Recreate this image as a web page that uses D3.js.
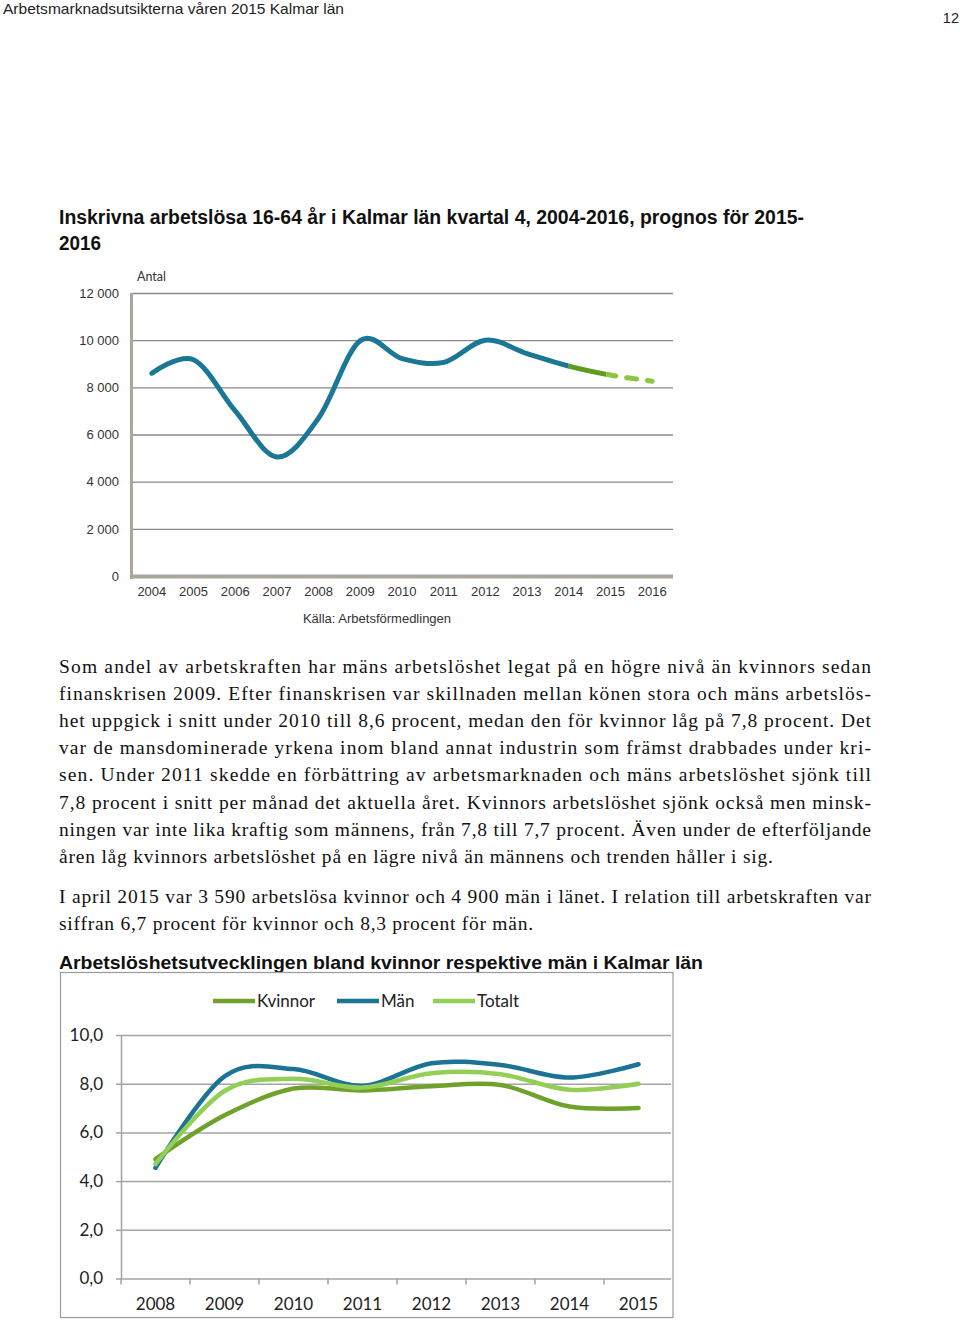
<!DOCTYPE html>
<html><head><meta charset="utf-8">
<script src="https://cdn.jsdelivr.net/npm/d3@7"></script>
<style>
html,body{margin:0;padding:0;background:#fff;}
svg{display:block;}
</style>
</head><body>
<svg id="page" width="960" height="1322"></svg>
<script>
// ---------- DATA ----------
const topYears = ["2004","2005","2006","2007","2008","2009","2010","2011","2012","2013","2014","2015","2016"];
const topValues = [8600, 9170, 7000, 5050, 6700, 9980, 9220, 9060, 10000, 9430, 8900, 8520, 8260];
const topYTicks = [0, 2000, 4000, 6000, 8000, 10000, 12000];
const topActualEnd = "2014";     // blue up to here
const topForecastStart = "2015"; // dashed from here

const botYears = ["2008","2009","2010","2011","2012","2013","2014","2015"];
const kvinnor = [4.9, 6.7, 7.8, 7.72, 7.9, 7.95, 7.06, 7.0];
const man     = [4.55, 8.3, 8.6, 7.92, 8.84, 8.77, 8.25, 8.8];
const totalt  = [4.7, 7.7, 8.2, 7.84, 8.43, 8.39, 7.75, 8.0];
const botYTicks = [0, 2, 4, 6, 8, 10];
const seriesNames = ["Kvinnor", "Män", "Totalt"];

const headerText = "Arbetsmarknadsutsikterna våren 2015 Kalmar län";
const pageNo = "12";
const title1 = ["Inskrivna arbetslösa 16-64 år i Kalmar län kvartal 4, 2004-2016, prognos för 2015-", "2016"];
const title2 = "Arbetslöshetsutvecklingen bland kvinnor respektive män i Kalmar län";
const para1 = [
 "Som andel av arbetskraften har mäns arbetslöshet legat på en högre nivå än kvinnors sedan",
 "finanskrisen 2009. Efter finanskrisen var skillnaden mellan könen stora och mäns arbetslös-",
 "het uppgick i snitt under 2010 till 8,6 procent, medan den för kvinnor låg på 7,8 procent. Det",
 "var de mansdominerade yrkena inom bland annat industrin som främst drabbades under kri-",
 "sen. Under 2011 skedde en förbättring av arbetsmarknaden och mäns arbetslöshet sjönk till",
 "7,8 procent i snitt per månad det aktuella året. Kvinnors arbetslöshet sjönk också men minsk-",
 "ningen var inte lika kraftig som männens, från 7,8 till 7,7 procent. Även under de efterföljande",
 "åren låg kvinnors arbetslöshet på en lägre nivå än männens och trenden håller i sig."
];
const para2 = [
 "I april 2015 var 3 590 arbetslösa kvinnor och 4 900 män i länet. I relation till arbetskraften var",
 "siffran 6,7 procent för kvinnor och 8,3 procent för män."
];

// ---------- SETUP ----------
const svg = d3.select("#page");
svg.append("rect").attr("width",960).attr("height",1322).attr("fill","#fff");
const loc = d3.formatLocale({decimal:",", thousands:"\u00a0", grouping:[3], currency:["",""]});
const fmtTop = loc.format(",.0f");
const fmtBot = loc.format(".1f");
const SANS = "'Liberation Sans', Arial, sans-serif";
const SERIF = "'Liberation Serif', 'Times New Roman', serif";
const CAL = "Lato, 'Open Sans', sans-serif";

// header
svg.append("text").attr("x",3).attr("y",14).attr("font-family",SANS).attr("font-size",14.5)
  .attr("fill","#222").attr("textLength",341).attr("lengthAdjust","spacingAndGlyphs").text(headerText);
svg.append("text").attr("x",959).attr("y",23).attr("text-anchor","end").attr("font-family",SANS)
  .attr("font-size",14.5).attr("fill","#222").text(pageNo);

// title 1
svg.append("text").attr("x",59).attr("y",224).attr("font-family",SANS).attr("font-weight","bold")
  .attr("font-size",19.5).attr("fill","#111").attr("textLength",745).attr("lengthAdjust","spacingAndGlyphs").text(title1[0]);
svg.append("text").attr("x",59).attr("y",250).attr("font-family",SANS).attr("font-weight","bold")
  .attr("font-size",19.5).attr("fill","#111").attr("textLength",42).attr("lengthAdjust","spacingAndGlyphs").text(title1[1]);

// ---------- TOP CHART ----------
const xTop = d3.scaleBand().domain(topYears).range([131, 673]);
const yTop = d3.scaleLinear().domain([0, 12000]).range([576, 293]);
const cx = d => xTop(d) + xTop.bandwidth()/2;

const gTop = svg.append("g");
const gy = gTop.append("g").attr("transform","translate(131,0)")
  .call(d3.axisLeft(yTop).tickValues(topYTicks).tickSize(-(673-131)).tickPadding(12).tickFormat(fmtTop));
gy.select(".domain").remove();
gy.selectAll(".tick line").attr("stroke","#888").attr("stroke-width",1.3);
gy.selectAll(".tick text").attr("font-family",SANS).attr("font-size",13).attr("fill","#333");

const gx = gTop.append("g").attr("transform","translate(0,576)")
  .call(d3.axisBottom(xTop).tickSize(0).tickPadding(11));
gx.select(".domain").remove();
gx.selectAll(".tick text").attr("font-family",SANS).attr("font-size",13).attr("fill","#333");

// axis lines
gTop.append("line").attr("x1",131.5).attr("x2",131.5).attr("y1",yTop(12000)).attr("y2",yTop(0)+3)
  .attr("stroke","#aba59c").attr("stroke-width",3);
gTop.append("line").attr("x1",130).attr("x2",673).attr("y1",yTop(0)+0.5).attr("y2",yTop(0)+0.5)
  .attr("stroke","#aba59c").attr("stroke-width",4);

gTop.append("text").attr("x",137).attr("y",281).attr("font-family",CAL).attr("font-size",12.5)
  .attr("fill","#333").text("Antal");
gTop.append("text").attr("x",377).attr("y",623).attr("text-anchor","middle").attr("font-family",SANS)
  .attr("font-size",13).attr("fill","#333").text("Källa: Arbetsförmedlingen");

const topPts = topYears.map((y,i)=>({year:y, v:topValues[i]}));
const lineTop = d3.line().x(d=>cx(d.year)).y(d=>yTop(d.v)).curve(d3.curveCardinal.tension(0));
const defs = svg.append("defs");
const bSplit = cx(topActualEnd), fSplit = cx(topForecastStart) - 4;
defs.append("clipPath").attr("id","cBlue").append("rect").attr("x",0).attr("y",0).attr("width",bSplit).attr("height",1322);
defs.append("clipPath").attr("id","cDark").append("rect").attr("x",bSplit).attr("y",0).attr("width",fSplit-bSplit).attr("height",1322);
defs.append("clipPath").attr("id","cLight").append("rect").attr("x",fSplit).attr("y",0).attr("width",960-fSplit).attr("height",1322);

gTop.append("path").attr("d",lineTop(topPts)).attr("fill","none").attr("stroke","#1a7896")
  .attr("stroke-width",5).attr("stroke-linecap","round").attr("clip-path","url(#cBlue)");
gTop.append("path").attr("d",lineTop(topPts)).attr("fill","none").attr("stroke","#5f9b1c")
  .attr("stroke-width",5).attr("clip-path","url(#cDark)");
const iEnd = topYears.indexOf(topActualEnd);
gTop.append("path").attr("d",lineTop(topPts.slice(iEnd))).attr("fill","none").attr("stroke","#8cc63f")
  .attr("stroke-width",5).attr("stroke-linecap","round").attr("stroke-dasharray","10,11")
  .attr("stroke-dashoffset",4).attr("clip-path","url(#cLight)");

// ---------- PARAGRAPHS ----------
const paraWidths1 = para1.map((_,i)=> i===para1.length-1 ? 714 : 812);
const paraWidths2 = para2.map((_,i)=> i===para2.length-1 ? 474 : 812);
para1.forEach((t,i)=>{
  svg.append("text").attr("x",59).attr("y",673 + i*27.1).attr("font-family",SERIF).attr("font-size",19.5)
    .attr("fill","#111").attr("textLength",paraWidths1[i]).attr("lengthAdjust","spacing").text(t);
});
para2.forEach((t,i)=>{
  svg.append("text").attr("x",59).attr("y",902.5 + i*27.1).attr("font-family",SERIF).attr("font-size",19.5)
    .attr("fill","#111").attr("textLength",paraWidths2[i]).attr("lengthAdjust","spacing").text(t);
});

// title 2
svg.append("text").attr("x",59).attr("y",969).attr("font-family",SANS).attr("font-weight","bold")
  .attr("font-size",18.5).attr("fill","#111").attr("textLength",644).attr("lengthAdjust","spacingAndGlyphs").text(title2);

// ---------- BOTTOM CHART ----------
svg.append("rect").attr("x",60.5).attr("y",972.5).attr("width",612.5).attr("height",345)
  .attr("fill","#fff").attr("stroke","#9a9a9a").attr("stroke-width",1.2);

const xBot = d3.scaleBand().domain(botYears).range([121, 673]);
const yBot = d3.scaleLinear().domain([0, 10]).range([1278.5, 1035]);
const bx = d => xBot(d) + xBot.bandwidth()/2;
const gBot = svg.append("g");

const by = gBot.append("g").attr("transform","translate(121,0)")
  .call(d3.axisLeft(yBot).tickValues(botYTicks).tickSize(-(671-121)).tickPadding(18).tickFormat(fmtBot));
by.select(".domain").remove();
by.selectAll(".tick line").attr("stroke","#a3a3a3").attr("stroke-width",1.5);
by.selectAll(".tick text").attr("font-family",CAL).attr("font-size",17).attr("fill","#222");

// small outer ticks and axis line
const by2 = gBot.append("g").attr("transform","translate(121,0)")
  .call(d3.axisLeft(yBot).tickValues(botYTicks).tickSize(5).tickSizeOuter(0).tickFormat(""));
by2.selectAll("line,path").attr("stroke","#a3a3a3").attr("stroke-width",1.5);

// x ticks at category boundaries
const xTickPos = botYears.map(d=>xBot(d)).concat([xBot.range()[1]]);
gBot.append("g").selectAll("line").data(xTickPos.slice(0,-1)).join("line")
  .attr("x1",d=>d).attr("x2",d=>d).attr("y1",yBot(0)).attr("y2",yBot(0)+6)
  .attr("stroke","#a3a3a3").attr("stroke-width",1.5);

const bxg = gBot.append("g").attr("transform",`translate(0,${yBot(0)})`)
  .call(d3.axisBottom(xBot).tickSize(0).tickPadding(19.5));
bxg.select(".domain").remove();
bxg.selectAll(".tick text").attr("font-family",CAL).attr("font-size",17).attr("fill","#222");

const botSeries = [
  {name:seriesNames[0], values:kvinnor, color:"#70a12a"},
  {name:seriesNames[1], values:man,     color:"#1b7494"},
  {name:seriesNames[2], values:totalt,  color:"#93cf56"}
];
const lineBot = d3.line().x((d,i)=>bx(botYears[i])).y(d=>yBot(d)).curve(d3.curveCardinal.tension(0));
gBot.selectAll("path.series").data(botSeries).join("path").attr("class","series")
  .attr("d",d=>lineBot(d.values)).attr("fill","none").attr("stroke",d=>d.color)
  .attr("stroke-width",4.5).attr("stroke-linecap","round");

// legend
const legX = [213, 337, 433];
const leg = gBot.selectAll("g.leg").data(botSeries).join("g").attr("class","leg")
  .attr("transform",(d,i)=>`translate(${legX[i]},1001)`);
leg.append("line").attr("x1",0).attr("x2",42).attr("y1",0).attr("y2",0)
  .attr("stroke",d=>d.color).attr("stroke-width",4.5);
leg.append("text").attr("x",44).attr("y",6).attr("font-family",CAL).attr("font-size",17)
  .attr("fill","#222").text(d=>d.name);
</script>
</body></html>
